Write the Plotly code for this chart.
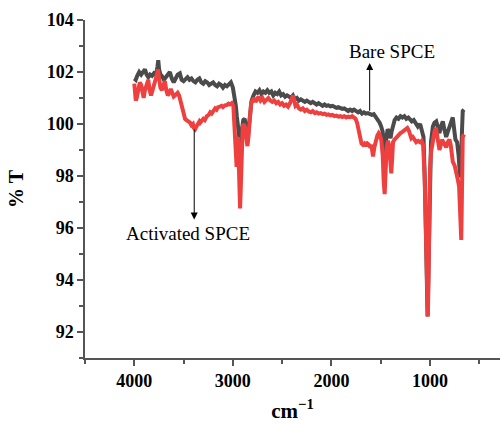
import plotly.graph_objects as go

# ---- data: wavenumber (cm-1) and %T ----
bare_wn = [4000, 3985, 3970, 3950, 3930, 3910, 3892, 3875, 3858, 3840, 3820, 3800, 3780, 3765, 3757, 3748, 3735,
           3720, 3700, 3680, 3660, 3639, 3620, 3600, 3580, 3560, 3538, 3520, 3500, 3480, 3460, 3440, 3420, 3400,
           3380, 3360, 3340, 3320, 3300, 3280, 3260, 3240, 3220, 3200, 3180, 3160, 3140, 3120, 3100, 3080, 3060,
           3040, 3020, 3000, 2985, 2970, 2960, 2950, 2940, 2927, 2915, 2905, 2894, 2880, 2868, 2855, 2849, 2838,
           2825, 2810, 2790, 2770, 2750, 2730, 2710, 2690, 2670, 2650, 2630, 2610, 2590, 2570, 2550, 2530, 2510,
           2490, 2470, 2450, 2430, 2410, 2390, 2370, 2350, 2330, 2310, 2290, 2270, 2250, 2230, 2210, 2190, 2170,
           2150, 2130, 2110, 2090, 2070, 2050, 2030, 2010, 1990, 1970, 1950, 1930, 1910, 1890, 1870, 1850, 1830,
           1810, 1790, 1770, 1750, 1730, 1710, 1690, 1670, 1650, 1630, 1610, 1590, 1570, 1550, 1530, 1511, 1495,
           1480, 1465, 1455, 1445, 1430, 1415, 1400, 1390, 1375, 1359, 1340, 1320, 1300, 1280, 1260, 1240, 1220,
           1205, 1185, 1165, 1140, 1123, 1100, 1085, 1066, 1050, 1035, 1025, 1015, 1005, 990, 971, 955, 937, 920,
           904, 890, 870, 855, 836, 820, 803, 785, 769, 755, 742, 725, 710, 695, 685, 675, 668, 655]
bare_t = [101.75, 101.7, 101.85, 102.0, 101.9, 102.05, 102.1, 101.9, 101.8, 101.9, 101.85, 101.95, 101.9, 102.2,
          102.45, 102.1, 101.9, 101.85, 101.7, 101.8, 101.9, 102.0, 101.75, 101.6, 101.75, 101.9, 101.95, 101.7,
          101.65, 101.75, 101.8, 101.7, 101.75, 101.65, 101.6, 101.7, 101.75, 101.6, 101.55, 101.65, 101.6, 101.5,
          101.55, 101.6, 101.5, 101.45, 101.55, 101.5, 101.4, 101.5, 101.45, 101.55, 101.6, 101.4, 101.1, 100.7,
          100.3, 100.0, 99.7, 99.25, 99.6, 100.0, 100.15, 100.2, 99.9, 99.5, 99.4, 99.9, 100.5, 100.9, 101.1,
          101.25, 101.2, 101.3, 101.15, 101.25, 101.2, 101.3, 101.2, 101.25, 101.1, 101.2, 101.15, 101.25, 101.1,
          101.15, 101.05, 101.1, 101.05, 101.0, 101.1, 100.95, 101.0, 100.9, 100.95, 100.9, 100.85, 100.9, 100.85,
          100.8, 100.85, 100.8, 100.75, 100.8, 100.75, 100.7, 100.75, 100.7, 100.72, 100.68, 100.7, 100.65, 100.62,
          100.65, 100.6, 100.58, 100.6, 100.55, 100.5, 100.55, 100.5, 100.55, 100.5, 100.45, 100.5, 100.4, 100.45,
          100.4, 100.42, 100.4, 100.35, 100.38, 100.28, 100.2, 100.05, 99.9, 99.7, 99.1, 98.9, 99.4, 99.8, 99.7,
          99.45, 99.7, 100.0, 100.15, 100.25, 100.2, 100.3, 100.25, 100.3, 100.2, 100.25, 100.2, 100.1, 100.15,
          100.0, 99.9, 100.0, 99.8, 99.5, 97.5, 94.0, 92.6, 94.5, 97.5, 99.3, 99.9, 100.05, 100.1, 99.9, 99.65,
          99.9, 100.1, 99.8, 99.5, 99.7, 99.9, 100.0, 100.25, 99.8, 99.4, 99.3, 98.8, 97.95, 98.5, 99.8, 100.5,
          100.55]

act_wn = [4000, 3993, 3985, 3975, 3960, 3944, 3930, 3915, 3905, 3892, 3875, 3858, 3845, 3830, 3815, 3800, 3785,
          3770, 3760, 3750, 3735, 3720, 3705, 3690, 3675, 3660, 3645, 3630, 3615, 3600, 3585, 3570, 3560, 3545,
          3530, 3515, 3500, 3485, 3470, 3455, 3434, 3420, 3405, 3395, 3383, 3370, 3355, 3340, 3332, 3315, 3300,
          3285, 3264, 3245, 3230, 3215, 3197, 3180, 3165, 3150, 3130, 3115, 3100, 3080, 3062, 3045, 3030, 3011,
          2995, 2985, 2975, 2962, 2955, 2948, 2940, 2932, 2927, 2920, 2912, 2900, 2890, 2878, 2865, 2852, 2842,
          2830, 2815, 2800, 2785, 2770, 2755, 2740, 2720, 2700, 2680, 2660, 2640, 2620, 2600, 2580, 2560, 2540,
          2520, 2500, 2480, 2460, 2440, 2420, 2405, 2390, 2378, 2365, 2350, 2330, 2310, 2290, 2270, 2250, 2230,
          2210, 2190, 2168, 2150, 2130, 2110, 2090, 2070, 2050, 2030, 2010, 1990, 1970, 1950, 1930, 1910, 1890,
          1870, 1850, 1830, 1810, 1790, 1770, 1755, 1740, 1725, 1710, 1695, 1680, 1665, 1650, 1635, 1620, 1605,
          1595, 1585, 1578, 1565, 1550, 1535, 1520, 1511, 1495, 1480, 1470, 1460, 1450, 1440, 1427, 1415, 1403,
          1393, 1385, 1375, 1360, 1340, 1320, 1300, 1280, 1260, 1245, 1230, 1215, 1205, 1190, 1175, 1160, 1140,
          1120, 1100, 1085, 1070, 1055, 1040, 1030, 1022, 1015, 1008, 1000, 990, 980, 971, 955, 940, 930, 915,
          904, 890, 878, 865, 850, 836, 820, 803, 790, 780, 769, 750, 735, 720, 705, 695, 688, 683, 678, 672,
          668, 655]
act_t = [101.55, 101.2, 100.9, 101.0, 101.4, 101.6, 101.5, 101.2, 101.0, 101.3, 101.5, 101.7, 101.3, 101.1, 101.3,
         101.6, 101.7, 101.9, 102.1, 101.8, 101.4, 101.3, 101.5, 101.65, 101.3, 101.1, 101.2, 101.35, 101.2, 101.05,
         101.1, 101.15, 101.2, 101.1, 100.85, 100.6, 100.35, 100.2, 100.15, 100.1, 100.05, 99.95, 100.0, 99.85,
         99.8, 99.9, 100.0, 100.1, 100.05, 100.15, 100.2, 100.15, 100.3, 100.35, 100.45, 100.4, 100.55, 100.6,
         100.55, 100.65, 100.67, 100.7, 100.65, 100.72, 100.73, 100.78, 100.75, 100.8, 100.7, 100.0, 99.0, 98.35,
         99.0, 99.5, 98.5, 97.2, 96.75, 97.5, 99.0, 99.9, 100.0, 99.9, 99.5, 99.15, 99.5, 100.3, 100.8, 100.9,
         101.0, 100.85, 101.0, 101.05, 100.9, 101.0, 100.85, 100.95, 101.0, 100.9, 100.85, 100.9, 100.8, 100.85,
         100.75, 100.8, 100.7, 100.75, 100.67, 100.8, 100.95, 101.1, 100.9, 100.7, 100.75, 100.6, 100.55, 100.6,
         100.5, 100.55, 100.48, 100.45, 100.5, 100.42, 100.45, 100.4, 100.42, 100.38, 100.4, 100.35, 100.37,
         100.33, 100.35, 100.3, 100.32, 100.28, 100.3, 100.27, 100.3, 100.25, 100.28, 100.26, 100.3, 100.25,
         100.2, 100.05, 99.8, 99.4, 99.25, 99.2, 99.25, 99.15, 99.25, 99.2, 99.1, 99.2, 99.0, 98.75, 99.1, 99.4,
         99.55, 99.65, 99.6, 99.4, 98.8, 97.8, 97.3, 98.2, 99.1, 99.35, 99.2, 98.6, 98.1, 98.6, 99.3, 99.4, 99.5,
         99.6, 99.65, 99.7, 99.75, 99.8, 99.85, 99.75, 99.6, 99.45, 99.5, 99.4, 99.3, 99.35, 99.3, 99.35, 99.2,
         98.0, 95.0, 93.0, 92.6, 94.0, 96.5, 98.3, 98.9, 99.2, 99.4, 99.7, 99.85, 99.6, 99.2, 99.0, 99.2, 99.4,
         99.3, 99.2, 99.1, 99.3, 99.4, 99.2, 98.8, 98.55, 98.4, 98.2, 97.9, 97.6, 96.8, 95.6, 95.54, 96.8, 98.5,
         99.5, 99.6]

x_ticks = [4000, 3000, 2000, 1000]
y_ticks = [92, 94, 96, 98, 100, 102, 104]

SERIF = "Liberation Serif, Times New Roman, serif"

fig = go.Figure()
fig.add_trace(go.Scatter(x=bare_wn, y=bare_t, mode="lines", name="Bare SPCE",
                         line=dict(color="#4b4b4b", width=4)))
fig.add_trace(go.Scatter(x=act_wn, y=act_t, mode="lines", name="Activated SPCE",
                         line=dict(color="#ef4040", width=4)))

axis_common = dict(showgrid=False, zeroline=False, showline=True, linecolor="#555555", linewidth=1.5,
                   ticks="outside", ticklen=6, tickwidth=1.5, tickcolor="#555555",
                   tickfont=dict(family=SERIF, size=18, color="black", weight="bold"))

fig.update_xaxes(range=[4500, 290], tickvals=x_ticks, ticktext=[str(v) for v in x_ticks],
                 minor=dict(ticks="outside", ticklen=4, tickwidth=1.5, tickcolor="#555555",
                            tickvals=[4500, 3500, 2500, 1500, 500]),
                 title=dict(text="cm<sup>\u22121</sup>", font=dict(family=SERIF, size=21, color="black", weight="bold"),
                            standoff=13),
                 **axis_common)
fig.update_yaxes(range=[91, 104], tickvals=y_ticks, ticktext=[str(v) for v in y_ticks],
                 minor=dict(ticks="outside", ticklen=4, tickwidth=1.5, tickcolor="#555555",
                            tickvals=[91, 93, 95, 97, 99, 101, 103]),
                 title=dict(text="% T", font=dict(family=SERIF, size=20, color="black", weight="bold"),
                            standoff=18),
                 **axis_common)

# arrows
fig.add_annotation(x=1612, y=102.35, ax=1612, ay=100.45, xref="x", yref="y", axref="x", ayref="y",
                   text="", showarrow=True, arrowhead=2, arrowsize=1.4, arrowwidth=1, arrowcolor="black")
fig.add_annotation(x=1385, y=102.78, xref="x", yref="y", text="Bare SPCE", showarrow=False,
                   font=dict(family=SERIF, size=19, color="black"))
fig.add_annotation(x=3392, y=96.33, ax=3392, ay=99.85, xref="x", yref="y", axref="x", ayref="y",
                   text="", showarrow=True, arrowhead=2, arrowsize=1.4, arrowwidth=1, arrowcolor="black")
fig.add_annotation(x=3458, y=95.77, xref="x", yref="y", text="Activated SPCE", showarrow=False,
                   font=dict(family=SERIF, size=19, color="black"))

fig.update_layout(width=501, height=425, margin=dict(l=85, r=1, t=20, b=67),
                  paper_bgcolor="white", plot_bgcolor="white", showlegend=False)

fig.write_html("out.html")
